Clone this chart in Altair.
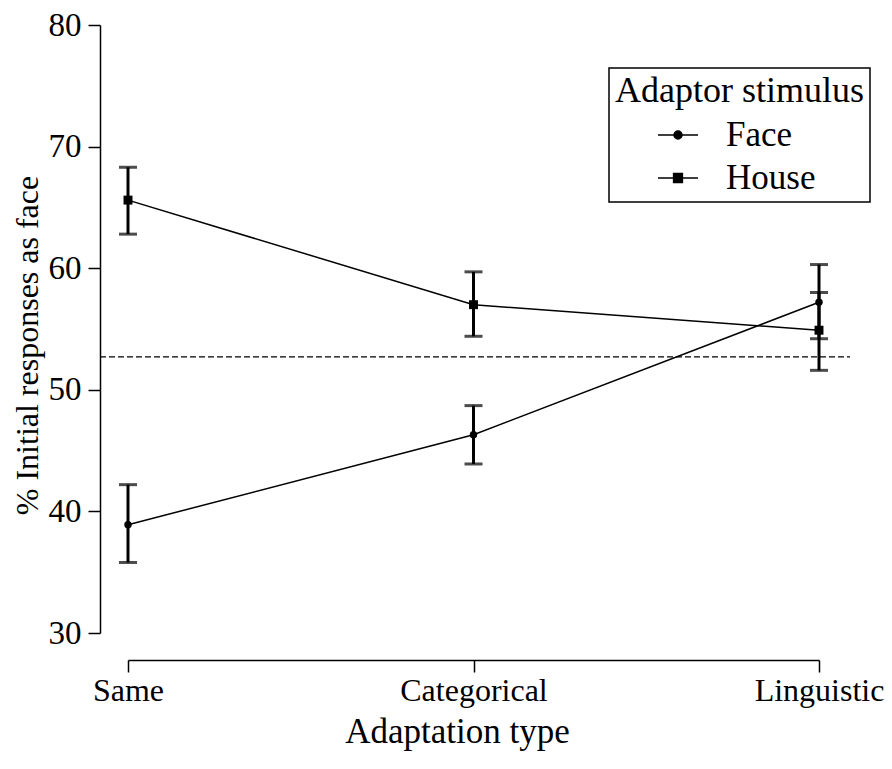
import altair as alt
import pandas as pd

categories = ["Same", "Categorical", "Linguistic"]
series_names = ["Face", "House"]
face_mean = [38.9, 46.3, 57.2]
face_low = [35.8, 43.9, 54.2]
face_high = [42.2, 48.7, 60.3]
house_mean = [65.6, 57.0, 54.9]
house_low = [62.8, 54.4, 51.6]
house_high = [68.3, 59.7, 58.0]
chance_level = [52.7]
y_ticks = [30, 40, 50, 60, 70, 80]

rows = []
for s, m, lo, hi in [("Face", face_mean, face_low, face_high),
                     ("House", house_mean, house_low, house_high)]:
    for c, mv, lv, hv in zip(categories, m, lo, hi):
        rows.append({"type": c, "series": s, "mean": mv, "low": lv, "high": hv})
df = pd.DataFrame(rows)
df_base = pd.DataFrame({"level": chance_level})

FONT = "Liberation Serif"
xenc = alt.X("type:N", sort=categories, scale=alt.Scale(type="point", padding=0),
             axis=alt.Axis(title="Adaptation type", labelAngle=0, offset=27,
                           tickSize=12, labelPadding=3, titlePadding=8,
                           titleX=329, labelFontSize=32, titleFontSize=35))
yscale = alt.Scale(domain=[30, 80], nice=False, zero=False)
yaxis = alt.Axis(title="% Initial responses as face", values=y_ticks, offset=28,
                 tickSize=12, labelPadding=7, titlePadding=4, titleY=320,
                 labelFontSize=33, titleFontSize=32)

base = alt.Chart(df)

lines = base.mark_line(color="black", strokeWidth=1.5).encode(
    x=xenc,
    y=alt.Y("mean:Q", scale=yscale, axis=yaxis),
    detail="series:N",
)
err = base.mark_rule(color="black", strokeWidth=3).encode(
    x=alt.X("type:N", sort=categories), y="low:Q", y2="high:Q")
cap_lo = base.mark_tick(color="black", size=18, thickness=3).encode(
    x=alt.X("type:N", sort=categories), y="low:Q")
cap_hi = base.mark_tick(color="black", size=18, thickness=3).encode(
    x=alt.X("type:N", sort=categories), y="high:Q")
pts_face = base.transform_filter("datum.series == 'Face'").mark_point(
    shape="circle", filled=True, color="black", size=55, opacity=1).encode(
    x=alt.X("type:N", sort=categories), y="mean:Q")
pts_house = base.transform_filter("datum.series == 'House'").mark_point(
    shape="square", filled=True, color="black", size=80, opacity=1).encode(
    x=alt.X("type:N", sort=categories), y="mean:Q")

chance = alt.Chart(df_base).mark_rule(color="black", strokeWidth=1.3,
                                      strokeDash=[6, 3]).encode(
    y="level:Q", x=alt.value(-28), x2=alt.value(722))


def circle_path(r):
    return f"M{-r},0A{r},{r},0,1,0,{r},0A{r},{r},0,1,0,{-r},0Z"


def square_path(h):
    return f"M{-h},{-h}H{h}V{h}H{-h}Z"


face_sym = "M-1,0H1" + "".join(circle_path(r) for r in [0.2, 0.15, 0.1, 0.05])
house_sym = "M-1,0H1" + "".join(square_path(h) for h in [0.22, 0.17, 0.12, 0.07, 0.03])

legend_layer = base.transform_filter("false").mark_point(
    filled=False, color="black", strokeWidth=1.5, size=1600, opacity=1
).encode(
    shape=alt.Shape("series:N",
                    scale=alt.Scale(domain=series_names, range=[face_sym, house_sym]),
                    legend=alt.Legend(title="Adaptor stimulus", orient="none",
                                      legendX=481, legendY=43, padding=6,
                                      strokeColor="black", symbolSize=1600,
                                      symbolStrokeColor="black",
                                      symbolStrokeWidth=1.5, symbolOffset=42,
                                      labelOffset=27, rowPadding=4, titlePadding=4,
                                      labelFontSize=35, titleFontSize=36,
                                      titleLimit=500, labelLimit=300,
                                      titleFontWeight="normal", labelFont=FONT,
                                      titleFont=FONT, labelColor="black",
                                      titleColor="black")),
)

chart = alt.layer(chance, lines, err, cap_lo, cap_hi, pts_face, pts_house,
                  legend_layer).properties(
    width=691, height=608,
    autosize=alt.AutoSizeParams(type="none"),
    padding={"left": 120, "top": 17, "right": 65, "bottom": 122},
).configure_view(stroke=None).configure_axis(
    grid=False, domainColor="black", domainWidth=1.5, tickColor="black",
    tickWidth=1.5, labelColor="black", titleColor="black", labelFont=FONT,
    titleFont=FONT, titleFontWeight="normal",
).configure_legend(strokeWidth=1.5)

chart.save("out.html", embed_options={"renderer": "svg", "actions": False})
